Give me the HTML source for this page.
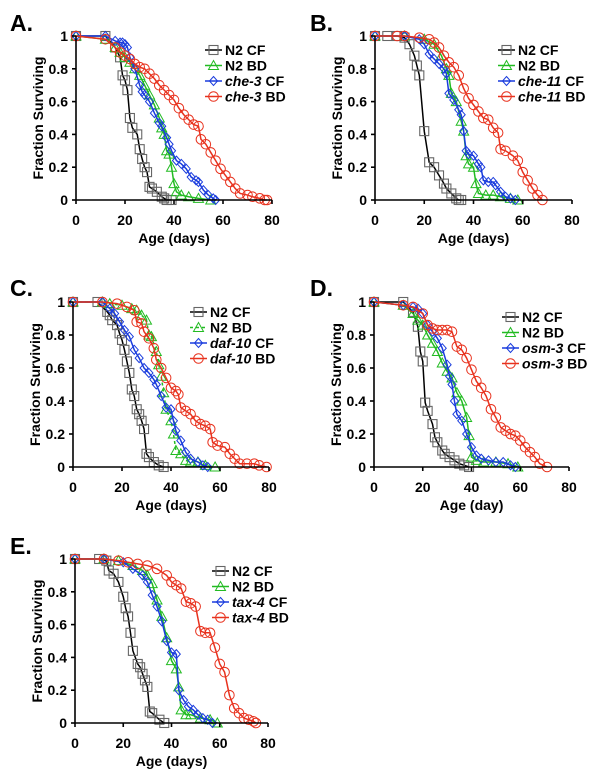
<!DOCTYPE html>
<html><head><meta charset="utf-8"><style>
body{margin:0;background:#fff;width:600px;height:777px;overflow:hidden}
svg{display:block;font-family:"Liberation Sans",Arial,sans-serif;font-weight:bold}
</style></head><body>
<svg id="fig" width="600" height="777" viewBox="0 0 600 777" xmlns="http://www.w3.org/2000/svg"></svg>
<script>
// Panel A
const aN2CF=[[0,1],[12,1],[16,0.93],[18,0.87],[19,0.76],[20,0.73],[21,0.67],[22,0.5],[23,0.44],[25,0.4],[26,0.31],[27,0.25],[28,0.2],[29,0.17],[30,0.08],[31,0.07],[33,0.05],[35,0.02],[36,0.01],[37,0],[39,0]];
const aN2BD=[[0,1],[12,0.98],[16,0.93],[18,0.9],[20,0.87],[22,0.84],[24,0.8],[26,0.76],[28,0.7],[30,0.64],[32,0.58],[34,0.5],[35,0.44],[36,0.4],[37,0.3],[38,0.28],[39,0.2],[40,0.1],[41,0.05],[43,0.03],[46,0.02],[50,0.01],[55,0]];
const aMutCF=[[0,1],[12,1],[16,0.97],[18,0.96],[19,0.96],[20,0.95],[21,0.93],[22,0.87],[24,0.8],[26,0.7],[27,0.66],[28,0.64],[30,0.6],[32,0.53],[34,0.47],[35,0.45],[37,0.38],[38,0.34],[39,0.3],[41,0.24],[43,0.22],[45,0.19],[47,0.14],[49,0.12],[50,0.11],[52,0.06],[54,0.03],[56,0.01],[57,0]];
const aMutBD=[[0,1],[12,0.98],[16,0.93],[18,0.9],[20,0.88],[22,0.86],[24,0.83],[26,0.81],[28,0.8],[30,0.77],[32,0.74],[34,0.7],[36,0.67],[38,0.64],[40,0.61],[42,0.56],[44,0.52],[46,0.49],[48,0.46],[50,0.45],[51,0.37],[53,0.34],[55,0.29],[57,0.24],[59,0.19],[61,0.15],[63,0.11],[65,0.07],[67,0.04],[70,0.03],[72,0.02],[75,0.01],[77,0],[78,0]];
// Panel B
const bN2CF=[[0,1],[5,1],[9,1],[12,0.99],[14,0.95],[16,0.88],[17,0.82],[18,0.76],[20,0.42],[22,0.23],[24,0.2],[26,0.15],[28,0.1],[29,0.07],[31,0.04],[33,0.01],[34,0],[35,0]];
const bN2BD=[[0,1],[12,1],[20,0.98],[24,0.95],[27,0.88],[29,0.8],[30,0.76],[31,0.65],[33,0.6],[35,0.48],[36,0.42],[37,0.27],[38,0.22],[40,0.2],[41,0.1],[42,0.04],[45,0.03],[48,0.03],[51,0.02],[55,0.01],[58,0]];
const bMutCF=[[0,1],[12,1],[18,0.98],[20,0.95],[22,0.89],[24,0.86],[26,0.83],[28,0.8],[29,0.77],[30,0.65],[32,0.61],[34,0.55],[35,0.52],[36,0.42],[37,0.3],[38,0.28],[40,0.27],[42,0.22],[43,0.2],[44,0.12],[46,0.11],[48,0.11],[49,0.09],[51,0.05],[53,0.02],[55,0.01],[57,0]];
const bMutBD=[[0,1],[9,1],[12,1],[18,0.99],[22,0.98],[24,0.96],[26,0.93],[28,0.88],[30,0.84],[32,0.81],[34,0.76],[36,0.68],[38,0.62],[40,0.58],[42,0.54],[44,0.5],[46,0.49],[48,0.44],[50,0.41],[51,0.31],[53,0.3],[56,0.27],[58,0.24],[60,0.17],[62,0.12],[64,0.07],[66,0.03],[68,0]];
// Panel C
const cN2CF=[[0,1],[10,1],[14,0.94],[15,0.92],[16,0.89],[18,0.86],[19,0.81],[20,0.77],[21,0.71],[22,0.64],[23,0.57],[24,0.47],[25,0.43],[26,0.35],[27,0.32],[28,0.28],[29,0.23],[30,0.08],[31,0.06],[33,0.03],[35,0.01],[37,0]];
const cN2BD=[[0,1],[12,1],[15,0.99],[20,0.98],[24,0.96],[26,0.95],[28,0.92],[30,0.89],[31,0.8],[32,0.79],[34,0.7],[35,0.62],[36,0.55],[37,0.45],[38,0.35],[40,0.28],[41,0.2],[42,0.1],[44,0.08],[46,0.04],[48,0.03],[51,0.03],[54,0.01],[58,0]];
const cMutCF=[[0,1],[12,1],[15,0.96],[17,0.93],[19,0.88],[21,0.83],[23,0.79],[25,0.71],[27,0.66],[29,0.6],[31,0.57],[33,0.53],[34,0.5],[36,0.43],[38,0.36],[40,0.35],[41,0.28],[42,0.22],[44,0.16],[46,0.09],[48,0.05],[51,0.03],[53,0.01],[55,0]];
const cMutBD=[[0,1],[12,1],[18,0.99],[22,0.97],[25,0.95],[26,0.88],[28,0.87],[29,0.82],[31,0.78],[33,0.72],[34,0.65],[36,0.6],[38,0.54],[40,0.48],[42,0.46],[43,0.44],[44,0.36],[46,0.34],[48,0.32],[50,0.28],[52,0.26],[54,0.25],[56,0.23],[57,0.15],[59,0.13],[62,0.12],[64,0.08],[66,0.05],[68,0.02],[71,0.02],[74,0.02],[76,0.01],[79,0]];
// Panel D
const dN2CF=[[0,1],[12,1],[16,0.94],[18,0.85],[19,0.7],[20,0.64],[21,0.39],[22,0.34],[24,0.26],[25,0.18],[26,0.15],[28,0.1],[29,0.08],[31,0.06],[33,0.04],[35,0.02],[37,0.01],[39,0]];
const dN2BD=[[0,1],[12,0.98],[16,0.93],[18,0.89],[20,0.86],[22,0.8],[24,0.75],[26,0.7],[28,0.63],[30,0.58],[32,0.54],[34,0.45],[36,0.4],[38,0.3],[39,0.19],[40,0.06],[42,0.04],[45,0.03],[50,0.03],[55,0.02],[59,0]];
const dMutCF=[[0,1],[12,0.98],[16,0.97],[18,0.96],[20,0.93],[22,0.86],[24,0.82],[26,0.78],[28,0.72],[30,0.62],[31,0.55],[32,0.5],[33,0.4],[34,0.32],[36,0.28],[38,0.2],[40,0.12],[42,0.07],[44,0.05],[47,0.04],[50,0.03],[53,0.03],[56,0.01],[58,0]];
const dMutBD=[[0,1],[12,0.98],[16,0.97],[20,0.93],[22,0.86],[24,0.84],[26,0.83],[28,0.83],[30,0.83],[32,0.82],[34,0.73],[36,0.71],[38,0.66],[40,0.59],[42,0.52],[44,0.48],[46,0.43],[48,0.35],[50,0.3],[52,0.24],[54,0.22],[56,0.2],[58,0.19],[60,0.16],[62,0.12],[64,0.09],[66,0.06],[68,0.02],[71,0]];
// Panel E
const eN2CF=[[0,1],[10,1],[13,0.99],[14,0.93],[16,0.91],[18,0.86],[20,0.77],[21,0.7],[22,0.65],[23,0.55],[24,0.44],[26,0.36],[27,0.34],[28,0.3],[29,0.26],[30,0.22],[31,0.07],[32,0.06],[35,0.02],[37,0]];
const eN2BD=[[0,1],[12,1],[18,0.99],[24,0.96],[28,0.93],[30,0.9],[32,0.85],[34,0.75],[36,0.65],[38,0.52],[40,0.38],[42,0.33],[43,0.22],[44,0.08],[46,0.05],[48,0.05],[52,0.03],[56,0.02],[59,0]];
const eMutCF=[[0,1],[12,1],[20,0.98],[24,0.94],[28,0.9],[30,0.86],[32,0.78],[34,0.71],[36,0.62],[38,0.5],[40,0.43],[42,0.42],[43,0.2],[45,0.14],[47,0.1],[49,0.08],[51,0.05],[53,0.03],[55,0.02],[57,0]];
const eMutBD=[[0,1],[12,1],[18,0.99],[22,0.98],[26,0.97],[30,0.96],[34,0.94],[38,0.9],[40,0.86],[42,0.84],[44,0.82],[46,0.74],[48,0.73],[50,0.71],[52,0.56],[54,0.55],[56,0.55],[58,0.46],[60,0.36],[62,0.31],[64,0.17],[66,0.09],[68,0.06],[70,0.03],[72,0.02],[74,0.01],[75,0]];

const xTicks=[0,20,40,60,80];
const yTicks=[0,0.2,0.4,0.6,0.8,1];
const yTickLabels=["0","0.2","0.4","0.6","0.8","1"];

const NS="http://www.w3.org/2000/svg";
const svg=document.getElementById('fig');
function mk(tag,attrs,parent,text){const e=document.createElementNS(NS,tag);for(const k in attrs)e.setAttribute(k,attrs[k]);if(text!==undefined)e.textContent=text;(parent||svg).appendChild(e);return e;}

function marker(g,kind,x,y,color){
  let m;
  if(kind==='sq') m=mk('rect',{x:x-4.5,y:y-4.5,width:9,height:9,fill:'none',stroke:'#666','stroke-width':1.1},g);
  else if(kind==='tri') m=mk('polygon',{points:`${x},${y-5} ${x+5},${y+4} ${x-5},${y+4}`,fill:'none',stroke:color,'stroke-width':1},g);
  else if(kind==='dia') m=mk('polygon',{points:`${x},${y-4.5} ${x+4},${y} ${x},${y+4.5} ${x-4},${y}`,fill:'none',stroke:color,'stroke-width':1},g);
  else m=mk('circle',{cx:x,cy:y,r:4.8,fill:'none',stroke:color,'stroke-width':1},g);
  
  
}

const panels=[
 {id:'a',letter:'A.',lx:10,ly:31,x0:76,x1:272,yt:36,yb:200,xt:'Age (days)',mut:'che-3',series:[aN2CF,aN2BD,aMutCF,aMutBD],legX:205,legY:50,dashBD:false},
 {id:'b',letter:'B.',lx:310,ly:31,x0:375,x1:572,yt:36,yb:200,xt:'Age (days)',mut:'che-11',series:[bN2CF,bN2BD,bMutCF,bMutBD],legX:498,legY:50,dashBD:false},
 {id:'c',letter:'C.',lx:10,ly:296,x0:73,x1:269,yt:302,yb:467,xt:'Age (days)',mut:'daf-10',series:[cN2CF,cN2BD,cMutCF,cMutBD],legX:190,legY:312,dashBD:true},
 {id:'d',letter:'D.',lx:310,ly:296,x0:374,x1:569,yt:302,yb:467,xt:'Age (day)',mut:'osm-3',series:[dN2CF,dN2BD,dMutCF,dMutBD],legX:502,legY:317,dashBD:false},
 {id:'e',letter:'E.',lx:10,ly:554,x0:75,x1:268,yt:559,yb:723,xt:'Age (days)',mut:'tax-4',series:[eN2CF,eN2BD,eMutCF,eMutBD],legX:212,legY:571,dashBD:false}
];
const kinds=['sq','tri','dia','cir'];
const lineCol=['#000','#22bb22','#1a3cdd','#e8321e'];

panels.forEach(p=>{
  const g=mk('g',{});
  
  
  const X=v=>p.x0+(v/80)*(p.x1-p.x0);
  const Y=v=>p.yb-v*(p.yb-p.yt);
  const L=mk('text',{x:p.lx,y:p.ly,'font-size':23,fill:'#000'},g,p.letter);
  
  
  p.series.forEach((s,i)=>{
    const sg=mk('g',{},g);
    
    
    const attrs={points:s.map(d=>X(d[0])+','+Y(d[1])).join(' '),fill:'none',stroke:lineCol[i],'stroke-width':1.5};
    if(i===1&&p.dashBD) attrs['stroke-dasharray']='3,3';
    const pl=mk('polyline',attrs,sg);
    
    
    s.forEach(d=>marker(sg,kinds[i],X(d[0]),Y(d[1]),lineCol[i]));
  });
  const ax=mk('g',{stroke:'#000','stroke-width':1.6},g);
  
  
  mk('line',{x1:p.x0,y1:p.yt,x2:p.x0,y2:p.yb},ax);
  mk('line',{x1:p.x0,y1:p.yb,x2:p.x1,y2:p.yb},ax);
  yTicks.forEach((t,i)=>{
    mk('line',{x1:p.x0-4,y1:Y(t),x2:p.x0,y2:Y(t)},ax);
    const tl=mk('text',{x:p.x0-8,y:Y(t)+5,'font-size':14,'text-anchor':'end',fill:'#000'},g,yTickLabels[i]);
    
    
  });
  xTicks.forEach(t=>{
    mk('line',{x1:X(t),y1:p.yb,x2:X(t),y2:p.yb+4},ax);
    const tl=mk('text',{x:X(t),y:p.yb+25,'font-size':14,'text-anchor':'middle',fill:'#000'},g,String(t));
    
    
  });
  const xt=mk('text',{x:(p.x0+p.x1)/2,y:p.yb+43,'font-size':14,'text-anchor':'middle',fill:'#000'},g,p.xt);
  
  
  const cy=(p.yt+p.yb)/2, cx=p.x0-33;
  const yt=mk('text',{x:cx,y:cy,'font-size':14,'text-anchor':'middle',transform:`rotate(-90 ${cx} ${cy})`,fill:'#000'},g,'Fraction Surviving');
  
  
  const lg=mk('g',{},g);
  
  
  const labels=[['N2',' CF'],['N2',' BD'],[p.mut,' CF'],[p.mut,' BD']];
  labels.forEach((lb,i)=>{
    const y=p.legY+i*15.5;
    const e=mk('g',{},lg);
    
    
    const la={x1:p.legX,y1:y,x2:p.legX+17,y2:y,stroke:lineCol[i],'stroke-width':1.5};
    if(i===1&&p.dashBD) la['stroke-dasharray']='3,3';
    mk('line',la,e);
    marker(e,kinds[i],p.legX+8.5,y,lineCol[i]);
    const t=mk('text',{x:p.legX+20,y:y+5,'font-size':14,fill:'#000'},e);
    mk('tspan',{'font-style':i>=2?'italic':'normal'},t,lb[0]);
    mk('tspan',{},t,lb[1]);
  });
});
</script>
</body></html>
